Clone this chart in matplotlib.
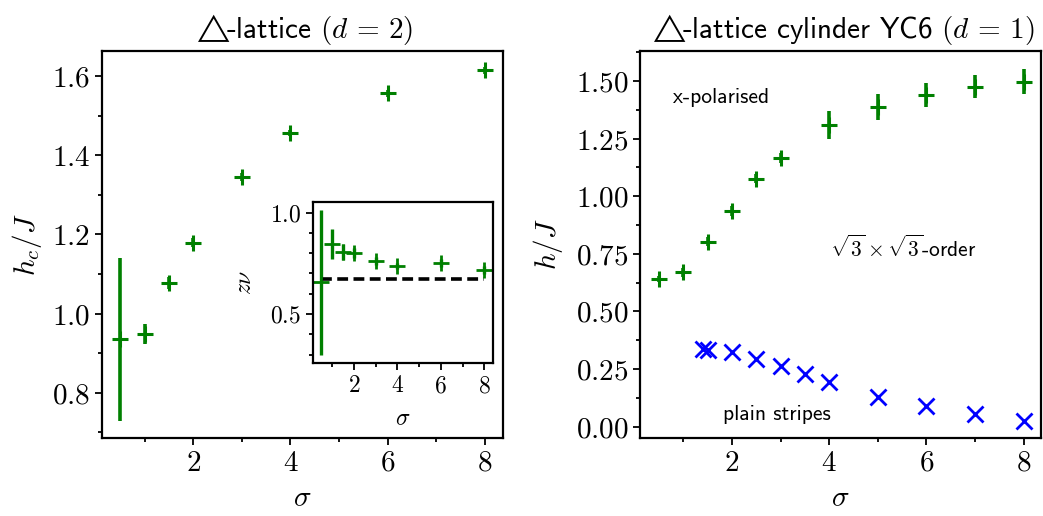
import numpy as np
import matplotlib
matplotlib.use("Agg")
import matplotlib.pyplot as plt
from matplotlib.ticker import MultipleLocator, FuncFormatter

plt.rcParams['mathtext.fontset'] = 'cm'
plt.rcParams['font.family'] = ['cmss10', 'DejaVu Sans']
plt.rcParams['axes.unicode_minus'] = False

# 2d triangular lattice: critical field
sig_2d = [0.5, 1, 1.5, 2, 3, 4, 6, 8]
hc_2d = [0.935, 0.949, 1.078, 1.179, 1.345, 1.456, 1.556, 1.614]
hc_2d_err = [0.205, 0.025, 0.015, 0.012, 0.01, 0.008, 0.008, 0.008]

# inset: z nu
znu = [0.656, 0.845, 0.807, 0.801, 0.761, 0.738, 0.750, 0.717]
znu_err = [0.357, 0.075, 0.04, 0.025, 0.02, 0.015, 0.02, 0.02]
znu_ref = 0.673

# YC6 cylinder: upper boundary (x-polarised)
sig_up = [0.5, 1, 1.5, 2, 2.5, 3, 4, 5, 6, 7, 8]
h_up = [0.640, 0.670, 0.802, 0.936, 1.076, 1.166, 1.309, 1.387, 1.440, 1.474, 1.497]
h_up_err = [0.012, 0.02, 0.02, 0.02, 0.02, 0.02, 0.06, 0.055, 0.053, 0.05, 0.055]

# YC6 cylinder: lower boundary (plain stripes)
sig_lo = [1.4, 1.5, 2, 2.5, 3, 3.5, 4, 5, 6, 7, 8]
h_lo = [0.335, 0.333, 0.323, 0.294, 0.265, 0.229, 0.193, 0.130, 0.090, 0.056, 0.026]


def fmt(nd):
    return FuncFormatter(lambda v, p: "$%.*f$" % (nd, v))


def style(ax, size):
    ax.tick_params(which='both', direction='out', width=1.3, labelsize=size)
    ax.tick_params(which='major', length=5)
    ax.tick_params(which='minor', length=3)
    for s in ax.spines.values():
        s.set_linewidth(1.6)


fig = plt.figure(figsize=(10.43, 5.16), dpi=100)

# left panel
ax1 = fig.add_axes([0.0978, 0.1512, 0.3845, 0.75])
ax1.errorbar(sig_2d, hc_2d, yerr=hc_2d_err, fmt='+', color='green',
             ms=12, mew=2.2, elinewidth=2.6)
ax1.set_xlim(0.125, 8.375)
ax1.set_ylim(0.686, 1.663)
ax1.xaxis.set_major_locator(MultipleLocator(2))
ax1.xaxis.set_minor_locator(MultipleLocator(1))
ax1.yaxis.set_major_locator(MultipleLocator(0.2))
ax1.yaxis.set_minor_locator(MultipleLocator(0.1))
ax1.xaxis.set_major_formatter(fmt(0))
ax1.yaxis.set_major_formatter(fmt(1))
style(ax1, 21)
ax1.set_xlabel(r'$\sigma$', fontsize=21, labelpad=6)
ax1.set_ylabel(r'$h_c/J$', fontsize=21, labelpad=6)
ax1.set_title(r'$\triangle\!\!$-lattice $(d\,=\,2)$', fontsize=21, pad=9)

# inset
axin = fig.add_axes([0.2998, 0.296, 0.1726, 0.312])
axin.errorbar(sig_2d, znu, yerr=znu_err, fmt='+', color='green',
              ms=11, mew=2.0, elinewidth=2.4)
axin.hlines(znu_ref, sig_2d[0], sig_2d[-1], colors='black',
            linestyles=(0, (3, 1.5)), linewidth=2.6)
axin.set_xlim(0.097, 8.39)
axin.set_ylim(0.257, 1.051)
axin.xaxis.set_major_locator(MultipleLocator(2))
axin.xaxis.set_minor_locator(MultipleLocator(1))
axin.yaxis.set_major_locator(MultipleLocator(0.5))
axin.yaxis.set_minor_locator(MultipleLocator(0.1))
axin.xaxis.set_major_formatter(fmt(0))
axin.yaxis.set_major_formatter(fmt(1))
style(axin, 17)
axin.set_xlabel(r'$\sigma$', fontsize=17, labelpad=8)
axin.set_ylabel(r'$z\nu$', fontsize=17, labelpad=10)

# right panel
ax2 = fig.add_axes([0.6139, 0.1512, 0.3842, 0.75])
ax2.errorbar(sig_up, h_up, yerr=h_up_err, fmt='+', color='green',
             ms=12, mew=2.2, elinewidth=2.6)
ax2.plot(sig_lo, h_lo, 'x', color='blue', ms=12, mew=2.0)
ax2.set_xlim(0.112, 8.36)
ax2.set_ylim(-0.049, 1.630)
ax2.xaxis.set_major_locator(MultipleLocator(2))
ax2.xaxis.set_minor_locator(MultipleLocator(1))
ax2.yaxis.set_major_locator(MultipleLocator(0.25))
ax2.yaxis.set_minor_locator(MultipleLocator(0.125))
ax2.xaxis.set_major_formatter(fmt(0))
ax2.yaxis.set_major_formatter(fmt(2))
style(ax2, 21)
ax2.set_xlabel(r'$\sigma$', fontsize=21, labelpad=6)
ax2.set_ylabel(r'$h/J$', fontsize=21, labelpad=8)
ax2.set_title(r'$\triangle\!\!$-lattice cylinder YC6 $(d\,=\,1)$', fontsize=21, pad=9)

ax2.text(0.78, 1.428, 'x-polarised', fontsize=15.5, va='center')
ax2.text(4.02, 0.777, r'$\sqrt{3}\times\sqrt{3}$-order', fontsize=15.5, va='center')
ax2.text(1.82, 0.054, 'plain stripes', fontsize=15.5, va='center')

fig.savefig('out.png', dpi=100)
